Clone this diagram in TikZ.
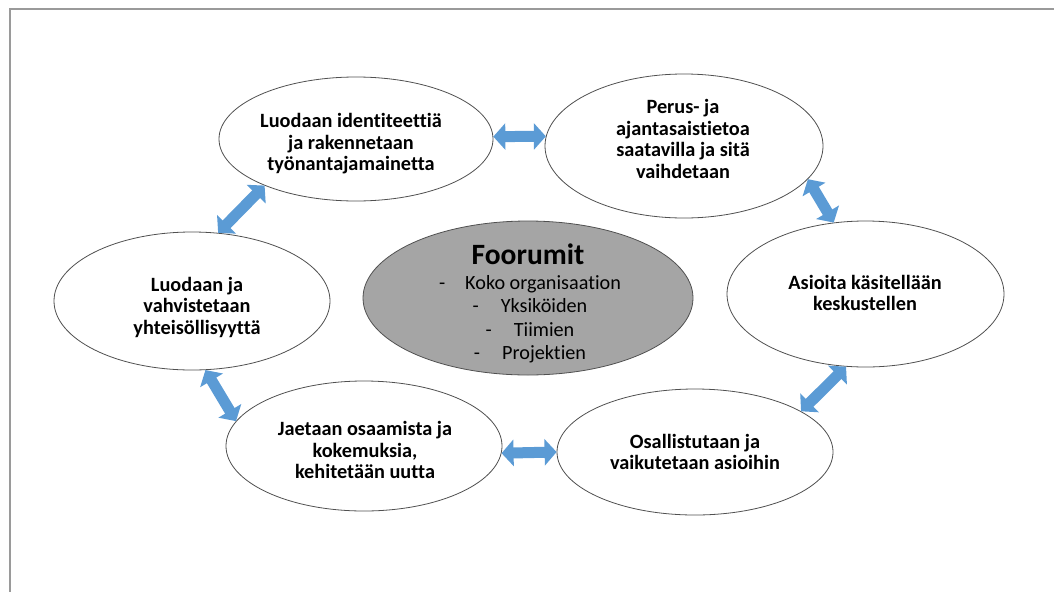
\documentclass[tikz,border=0pt]{standalone}
\usepackage{fontspec}
\setmainfont{Carlito}[Ligatures=NoCommon]
\usetikzlibrary{shapes.geometric,arrows.meta}
\definecolor{arrowblue}{HTML}{5B9BD5}
\definecolor{hubgray}{HTML}{A5A5A5}
\definecolor{framegray}{HTML}{9A9A9A}
\definecolor{rimgray}{HTML}{505050}
\begin{document}
\begin{tikzpicture}[x=1pt,y=-1pt,
  topic/.style={ellipse, draw=rimgray, line width=0.8pt, fill=white, inner sep=0pt},
  hub/.style={ellipse, draw=rimgray, line width=0.8pt, fill=hubgray, inner sep=0pt},
  caption/.style={align=center, inner sep=0pt, text=black,
    font=\bfseries\fontsize{20.3}{21.5}\selectfont},
  link/.style={draw=arrowblue, line width=11pt,
    {Triangle[width=26pt,length=12pt]}-{Triangle[width=26pt,length=12pt]}}
]
\useasboundingbox (0,0) rectangle (1054,592);
% page frame
\draw[framegray, line width=1.5pt] (1054,9) -- (10,9) -- (10,592);

% outer ring of topics
\node[topic, minimum width=274pt, minimum height=124pt] (e1) at (356,139) {};
\node[topic, minimum width=278pt, minimum height=144pt] (e2) at (684,146) {};
\node[topic, minimum width=277pt, minimum height=146pt] (e3) at (865.5,294) {};
\node[topic, minimum width=276pt, minimum height=126pt] (e4) at (695,452) {};
\node[topic, minimum width=276pt, minimum height=130pt] (e5) at (364,446) {};
\node[topic, minimum width=276pt, minimum height=138pt] (e6) at (192,301) {};

% central forum ellipse
\node[hub, minimum width=330pt, minimum height=154pt] (hub) at (528,298) {};

% texts
\node[caption] (t1) at (351,144) {Luodaan identiteettiä\\ja rakennetaan\\työnantajamainetta};
\node[caption] (t2) at (683,139) {Perus- ja\\ajantasaistietoa\\saatavilla ja sitä\\vaihdetaan};
\node[caption] (t3) at (865,293) {Asioita käsitellään\\keskustellen};
\node[caption] (t4) at (695,452) {Osallistutaan ja\\vaikutetaan asioihin};
\node[caption] (t5) at (365,450) {Jaetaan osaamista ja\\kokemuksia,\\kehitetään uutta};
\node[caption] (t6) at (197,307) {Luodaan ja\\vahvistetaan\\yhteisöllisyyttä};

\node[inner sep=0pt, font=\bfseries\fontsize{29.5}{32}\selectfont] (title) at (528,254) {Foorumit};
\node[align=center, inner sep=0pt, font=\fontsize{20.2}{23.5}\selectfont] (list) at (530,319)
  {-\hspace{20pt}Koko organisaation\\
   -\hspace{22pt}Yksiköiden\\
   -\hspace{22pt}Tiimien\\
   -\hspace{22pt}Projektien};

% two-way links between neighbouring topics
\draw[link] (e1.1) -- (e2.176);
\draw[link] (e2.-15) -- (e3.114);
\draw[link] (e3.-105) -- (e4.21);
\draw[link] (e4.180) -- (e5.-3);
\draw[link] (e5.169) -- (e6.-79);
\draw[link] (e6.69) -- (e1.-153);
\end{tikzpicture}
\end{document}
